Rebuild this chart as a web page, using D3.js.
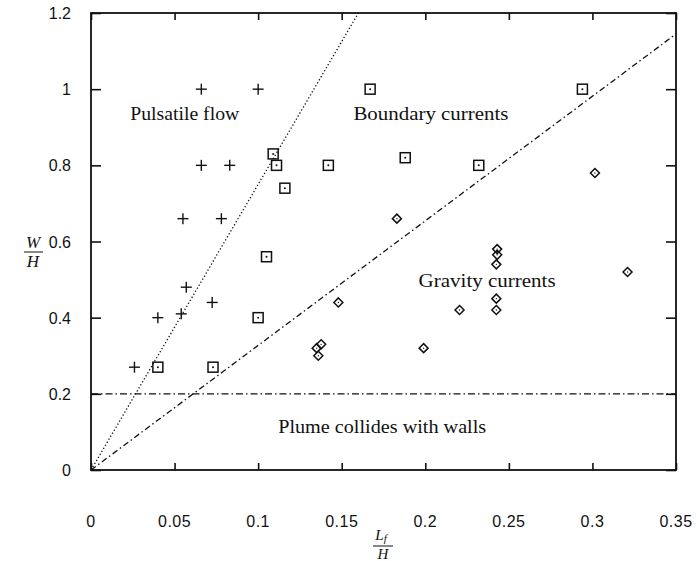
<!DOCTYPE html>
<html><head><meta charset="utf-8">
<script src="https://cdn.jsdelivr.net/npm/d3@7"></script>
<style>html,body{margin:0;padding:0;background:#fff;}svg{display:block;}</style>
</head><body>
<svg id="chart" width="696" height="561"></svg>
<script>
// ---- data ----
const xTicks = [0, 0.05, 0.1, 0.15, 0.2, 0.25, 0.3, 0.35];
const xTickLabels = ["0", "0.05", "0.1", "0.15", "0.2", "0.25", "0.3", "0.35"];
const yTicks = [0, 0.2, 0.4, 0.6, 0.8, 1, 1.2];
const yTickLabels = ["0", "0.2", "0.4", "0.6", "0.8", "1", "1.2"];

const plusX = [0.066, 0.100, 0.066, 0.083, 0.055, 0.078, 0.057, 0.0725, 0.040, 0.054, 0.026];
const plusY = [1.00, 1.00, 0.80, 0.80, 0.66, 0.66, 0.48, 0.44, 0.40, 0.41, 0.27];

const squareX = [0.167, 0.294, 0.109, 0.111, 0.142, 0.116, 0.188, 0.232, 0.105, 0.100, 0.040, 0.073];
const squareY = [1.00, 1.00, 0.83, 0.80, 0.80, 0.74, 0.82, 0.80, 0.56, 0.40, 0.27, 0.27];

const diamondX = [0.183, 0.3015, 0.148, 0.1377, 0.135, 0.136, 0.243, 0.243, 0.2425, 0.321, 0.2425, 0.2425, 0.2205, 0.199];
const diamondY = [0.66, 0.78, 0.44, 0.33, 0.32, 0.30, 0.58, 0.565, 0.54, 0.52, 0.45, 0.42, 0.42, 0.32];

const dottedLine = [[0, 0], [0.16, 1.2]];
const dashDotLine = [[0, 0], [0.35, 1.145]];
const plumeLine = [[0, 0.2], [0.35, 0.2]];

const regionLabels = ["Pulsatile flow", "Boundary currents", "Gravity currents", "Plume collides with walls"];
const regionLabelX = [0.0235, 0.157, 0.196, 0.112];
const regionLabelY = [0.918, 0.918, 0.48, 0.097];
const regionLabelW = [109, 155, 137, 208];

// ---- layout ----
const svg = d3.select("#chart");
const L = 91, R = 676, T = 13, B = 470;
const x = d3.scaleLinear().domain([0, 0.35]).range([L, R]);
const y = d3.scaleLinear().domain([0, 1.2]).range([B, T]);
const serif = "'Liberation Serif', 'DejaVu Serif', serif";
const sans = "'Liberation Sans', Arial, sans-serif";

// frame
svg.append("rect").attr("x", L).attr("y", T).attr("width", R - L).attr("height", B - T)
  .attr("fill", "none").attr("stroke", "#111").attr("stroke-width", 1.8);

// axes with inward ticks
const xAxisB = d3.axisBottom(x).tickValues(xTicks).tickSize(-7).tickFormat("");
const xAxisT = d3.axisTop(x).tickValues(xTicks).tickSize(-7).tickFormat("");
const yAxisL = d3.axisLeft(y).tickValues(yTicks).tickSize(-10).tickFormat("");
const yAxisR = d3.axisRight(y).tickValues(yTicks).tickSize(-10).tickFormat("");
[[xAxisB, `translate(0,${B})`], [xAxisT, `translate(0,${T})`], [yAxisL, `translate(${L},0)`], [yAxisR, `translate(${R},0)`]]
  .forEach(([ax, tr]) => {
    const g = svg.append("g").attr("transform", tr).call(ax);
    g.select(".domain").remove();
    g.selectAll(".tick line").attr("stroke", "#111").attr("stroke-width", 1.6);
  });

// tick labels
svg.append("g").selectAll("text").data(xTicks).join("text")
  .attr("x", d => x(d)).attr("y", 527).attr("text-anchor", "middle")
  .attr("font-family", sans).attr("font-size", 16).attr("letter-spacing", 0.5).attr("fill", "#111")
  .text((d, i) => xTickLabels[i]);
svg.append("g").selectAll("text").data(yTicks).join("text")
  .attr("x", 71).attr("y", d => y(d) + 6).attr("text-anchor", "end")
  .attr("font-family", sans).attr("font-size", 16).attr("fill", "#111")
  .text((d, i) => yTickLabels[i]);

// boundary lines
const line = d3.line().x(d => x(d[0])).y(d => y(d[1]));
svg.append("path").datum(dottedLine).attr("d", line).attr("fill", "none")
  .attr("stroke", "#111").attr("stroke-width", 1.3).attr("stroke-dasharray", "1.3,2.2");
svg.append("path").datum(dashDotLine).attr("d", line).attr("fill", "none")
  .attr("stroke", "#111").attr("stroke-width", 1.3).attr("stroke-dasharray", "6,3,1.5,3");
svg.append("path").datum(plumeLine).attr("d", line).attr("fill", "none")
  .attr("stroke", "#111").attr("stroke-width", 1.2).attr("stroke-dasharray", "7,3,1.5,3");

// markers
const plusG = svg.append("g").attr("stroke", "#111").attr("stroke-width", 1.4);
plusX.forEach((px, i) => {
  const cx = x(px), cy = y(plusY[i]);
  plusG.append("line").attr("x1", cx - 5.5).attr("x2", cx + 5.5).attr("y1", cy).attr("y2", cy);
  plusG.append("line").attr("x1", cx).attr("x2", cx).attr("y1", cy - 5.5).attr("y2", cy + 5.5);
});
const sqG = svg.append("g");
squareX.forEach((px, i) => {
  const cx = x(px), cy = y(squareY[i]);
  sqG.append("rect").attr("x", cx - 5).attr("y", cy - 5).attr("width", 10).attr("height", 10)
    .attr("fill", "none").attr("stroke", "#111").attr("stroke-width", 1.5);
  sqG.append("circle").attr("cx", cx).attr("cy", cy).attr("r", 1).attr("fill", "#111");
});
const dmG = svg.append("g");
diamondX.forEach((px, i) => {
  const cx = x(px), cy = y(diamondY[i]);
  dmG.append("path").attr("d", `M${cx},${cy - 4.5}L${cx + 4.5},${cy}L${cx},${cy + 4.5}L${cx - 4.5},${cy}Z`)
    .attr("fill", "none").attr("stroke", "#111").attr("stroke-width", 1.5);
  dmG.append("circle").attr("cx", cx).attr("cy", cy).attr("r", 0.7).attr("fill", "#111");
});

// region labels
svg.append("g").selectAll("text").data(regionLabels).join("text")
  .attr("x", (d, i) => x(regionLabelX[i])).attr("y", (d, i) => y(regionLabelY[i]))
  .attr("font-family", serif).attr("font-size", 18).attr("fill", "#111")
  .attr("textLength", (d, i) => regionLabelW[i]).attr("lengthAdjust", "spacingAndGlyphs")
  .text(d => d);

// y-axis title W/H
const yt = svg.append("g").attr("font-family", serif).attr("font-style", "italic").attr("font-size", 17).attr("fill", "#111");
yt.append("text").attr("x", 33).attr("y", 248).attr("text-anchor", "middle").text("W");
yt.append("line").attr("x1", 24).attr("x2", 43).attr("y1", 252).attr("y2", 252).attr("stroke", "#111").attr("stroke-width", 1);
yt.append("text").attr("x", 33).attr("y", 267).attr("text-anchor", "middle").text("H");

// x-axis title L_f/H
const xt = svg.append("g").attr("font-family", serif).attr("font-style", "italic").attr("font-size", 15).attr("fill", "#111");
const lt = xt.append("text").attr("x", 381).attr("y", 540).attr("text-anchor", "middle");
lt.append("tspan").text("L");
lt.append("tspan").attr("font-size", 11).attr("dy", 2).text("f");
xt.append("line").attr("x1", 373).attr("x2", 393).attr("y1", 546).attr("y2", 546).attr("stroke", "#111").attr("stroke-width", 1);
xt.append("text").attr("x", 383).attr("y", 559).attr("text-anchor", "middle").text("H");
</script>
</body></html>
